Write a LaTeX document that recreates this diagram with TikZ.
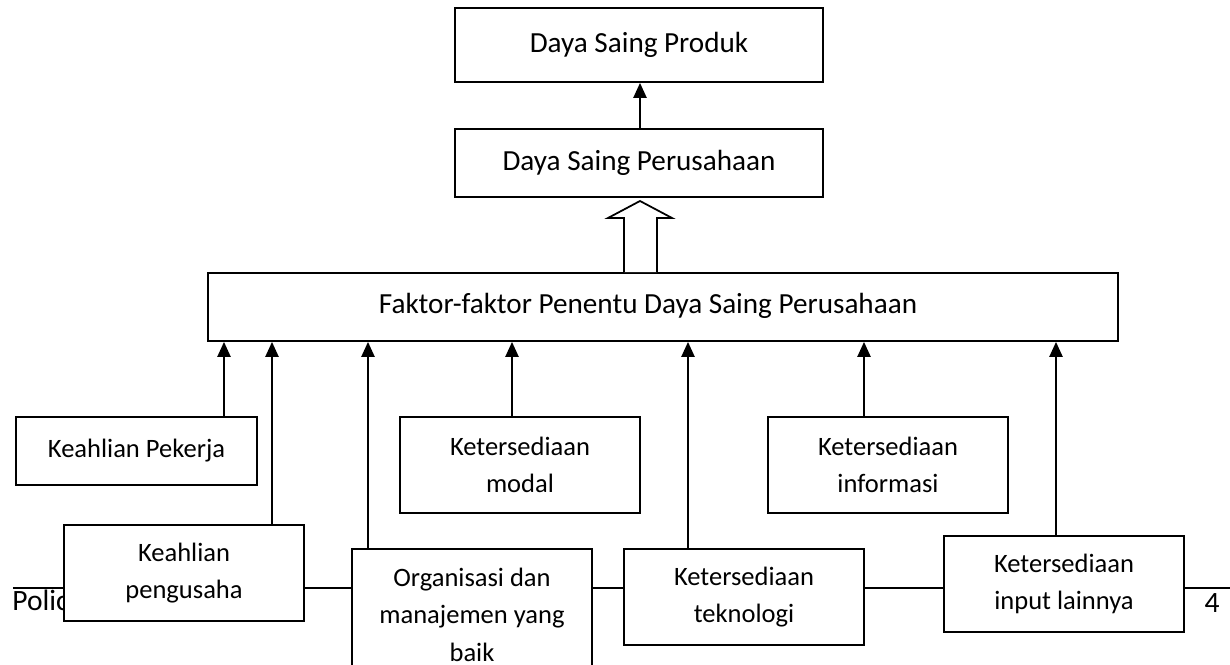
\documentclass[tikz,border=0pt]{standalone}
\usepackage{fontspec}
\setmainfont{Carlito}
\usepackage{tikz}
\usetikzlibrary{arrows.meta}

\begin{document}
\begin{tikzpicture}[
    kotak/.style={draw=black, line width=1pt, fill=white, minimum width=4.8cm, minimum height=1.92cm, align=center, inner sep=0pt},
    besar/.style={font=\fontsize{16.6}{21.3}\selectfont},
    panah/.style={line width=1.3pt, -{Triangle[length=0.3cm,width=0.26cm]}},
    font=\fontsize{15.1}{21.4}\selectfont
]
    % batas gambar
    \clip (0,0) rectangle (24.6,13.28);

    % garis kaki halaman
    \coordinate (kiri) at (0.26,1.52);
    \coordinate (kanan) at (24.6,1.52);
    \draw[line width=1pt] (kiri) -- (kanan);
    \node[anchor=base west, inner sep=0pt, font=\fontsize{16.8}{19}\selectfont] (polic) at (0.24,1.06) {Polic};
    \node[anchor=base, inner sep=0pt, font=\fontsize{16.8}{19}\selectfont] (hal) at (24.24,1.04) {4};

    % kotak atas
    \node[kotak, besar, minimum width=7.36cm, minimum height=1.48cm] (produk) at (12.78,12.38) {Daya Saing Produk};
    \node[kotak, besar, minimum width=7.36cm, minimum height=1.36cm] (perusahaan) at (12.78,10.02) {Daya Saing Perusahaan};
    \node[kotak, minimum width=18.2cm, minimum height=1.36cm] (faktor) at (13.26,7.14) {};
    \node[besar, inner sep=0pt] (faktorteks) at (12.96,7.16) {Faktor-faktor Penentu Daya Saing Perusahaan};

    \draw[panah] (12.8,0 |- perusahaan.north) -- (12.8,0 |- produk.south);

    % panah kosong
    \draw[line width=1pt, fill=white] (12.48,0 |- faktor.north) -- (12.48,8.92) -- (12.16,8.92) -- (12.8,9.26)
        -- (13.44,8.92) -- (13.14,8.92) -- (13.14,0 |- faktor.north);

    % faktor-faktor
    \node[kotak, minimum width=4.82cm, minimum height=1.36cm] (pekerja) at (2.73,4.26) {Keahlian Pekerja};
    \node[kotak] (modal) at (10.4,3.98) {Ketersediaan\\modal};
    \node[kotak] (informasi) at (17.76,3.98) {Ketersediaan\\informasi};
    \node[kotak] (pengusaha) at (3.68,1.82) {Keahlian\\pengusaha};
    \node[kotak, minimum height=2.62cm] (organisasi) at (9.44,0.99) {Organisasi dan\\manajemen yang\\baik};
    \node[kotak] (teknologi) at (14.88,1.34) {Ketersediaan\\teknologi};
    \node[kotak] (lainnya) at (21.28,1.6) {Ketersediaan\\input lainnya};

    \foreach \src/\x in {pekerja/4.48, pengusaha/5.44, organisasi/7.36, modal/10.24, teknologi/13.76, informasi/17.28, lainnya/21.12}
        \draw[panah] (\x,0 |- \src.north) -- (\x,0 |- faktor.south);
\end{tikzpicture}
\end{document}
